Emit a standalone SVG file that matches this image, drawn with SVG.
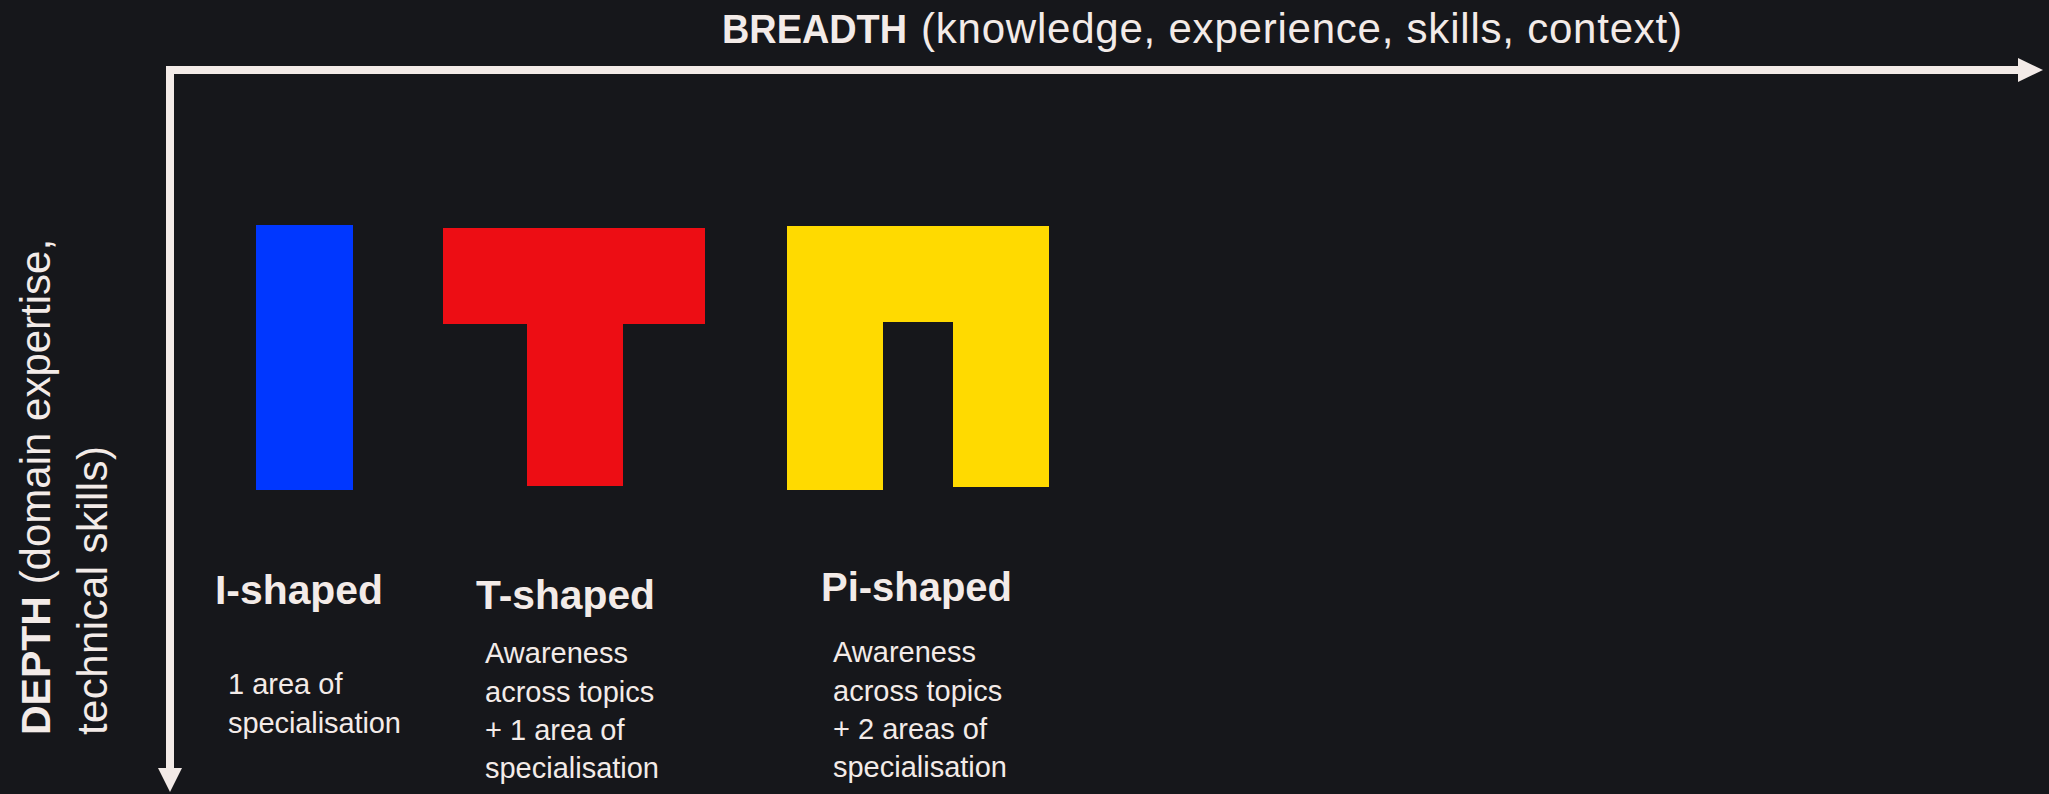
<svg xmlns="http://www.w3.org/2000/svg" width="2049" height="794" viewBox="0 0 2049 794">
<style>
.axis{fill:none;stroke:#f3ebe8;stroke-width:8;stroke-linejoin:miter}
.head{fill:#f3ebe8}
.t{font-family:"Liberation Sans",Arial,sans-serif;fill:#f3ebe8}
.h{font-size:41px;font-weight:bold}
.bd{font-size:29px}
.ax{font-size:42px}
.axb{font-size:41px;font-weight:bold}
</style>
<rect x="0" y="0" width="2049" height="794" fill="#16171b"/>
<g id="connectors">
<path class="axis" d="M170,770 V70 H2020"/>
<polygon class="head" points="2018,58 2043,70 2018,82"/>
<polygon class="head" points="158,768 182,768 170,792"/>
</g>
<g id="breadth-label">
<text class="t axb" x="722" y="43" textLength="185" lengthAdjust="spacingAndGlyphs">BREADTH</text>
<text class="t ax" x="921" y="43" textLength="761">(knowledge, experience, skills, context)</text>
</g>
<g id="depth-label">
<text class="t" transform="translate(50,735) rotate(-90)"><tspan class="axb">DEPTH</tspan><tspan class="ax"> (domain expertise,</tspan></text>
<text class="t ax" transform="translate(107,735) rotate(-90)" textLength="289">technical skills)</text>
</g>
<g id="i-shaped">
<rect x="256" y="225" width="97" height="265" fill="#0037ff"/>
<text class="t h" x="215" y="604" textLength="168" lengthAdjust="spacingAndGlyphs">I-shaped</text>
<text class="t bd" x="228" y="694">1 area of</text>
<text class="t bd" x="228" y="733" textLength="173">specialisation</text>
</g>
<g id="t-shaped">
<polygon points="443,228 705,228 705,324 623,324 623,486 527,486 527,324 443,324" fill="#ed0d14"/>
<text class="t h" x="476" y="609" textLength="179" lengthAdjust="spacingAndGlyphs">T-shaped</text>
<text class="t bd" x="485" y="663">Awareness</text>
<text class="t bd" x="485" y="702">across topics</text>
<text class="t bd" x="485" y="740">+ 1 area of</text>
<text class="t bd" x="485" y="778" textLength="174">specialisation</text>
</g>
<g id="pi-shaped">
<polygon points="787,226 1049,226 1049,487 953,487 953,322 883,322 883,490 787,490" fill="#ffda00"/>
<text class="t h" x="821" y="601" textLength="191" lengthAdjust="spacingAndGlyphs">Pi-shaped</text>
<text class="t bd" x="833" y="662">Awareness</text>
<text class="t bd" x="833" y="701">across topics</text>
<text class="t bd" x="833" y="739">+ 2 areas of</text>
<text class="t bd" x="833" y="777" textLength="174">specialisation</text>
</g>
</svg>
